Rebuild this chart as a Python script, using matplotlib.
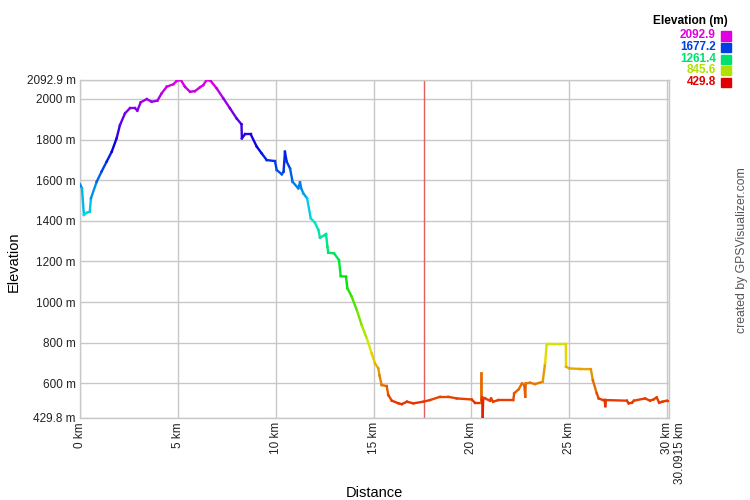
import numpy as np
import matplotlib
matplotlib.use("Agg")
import matplotlib.pyplot as plt
from matplotlib.collections import LineCollection
from matplotlib.colors import hsv_to_rgb
import matplotlib.transforms as mtransforms

plt.rcParams['font.family'] = ['Liberation Sans', 'DejaVu Sans']

dist_km = [0, 0.1, 0.2, 0.35, 0.5, 0.56, 0.85, 1.1, 1.36, 1.62, 1.87, 2.04, 2.3, 2.55, 2.81, 2.93,
           3.1, 3.41, 3.66, 3.95, 4.17, 4.43, 4.77, 4.94, 5.15, 5.36, 5.62, 5.87, 6.13, 6.3, 6.47,
           6.68, 6.98, 7.32, 7.66, 8.0, 8.25, 8.27, 8.43, 8.72, 9.03, 9.28, 9.54, 9.96, 10.05,
           10.31, 10.4, 10.47, 10.56, 10.73, 10.86, 11.15, 11.24, 11.3, 11.41, 11.6, 11.79, 12.0,
           12.18, 12.26, 12.5, 12.57, 12.64, 12.68, 12.98, 13.23, 13.32, 13.59, 13.66, 13.88,
           14.14, 14.39, 14.65, 14.9, 15.07, 15.24, 15.3, 15.41, 15.67, 15.75, 15.93, 16.27,
           16.44, 16.7, 17.03, 17.54, 17.88, 18.39, 18.82, 19.25, 20.01, 20.18, 20.5, 20.51,
           20.52, 20.55, 20.57, 20.6, 20.69, 20.95, 21.0, 21.1, 21.38, 22.14, 22.18, 22.41,
           22.58, 22.7, 22.75, 22.77, 22.99, 23.25, 23.64, 23.76, 23.84, 23.92, 24.82, 24.83,
           25.0, 25.54, 26.1, 26.2, 26.4, 26.5, 26.72, 26.8, 26.84, 26.87, 27.94, 28.03, 28.2,
           28.3, 28.87, 29.12, 29.3, 29.46, 29.59, 29.75, 29.97, 30.0915]
elev_m = [1580, 1560, 1429, 1440, 1445, 1511, 1592, 1642, 1691, 1740, 1806, 1871, 1929, 1954, 1954,
          1942, 1983, 1999, 1986, 1991, 2027, 2060, 2072, 2088, 2093, 2060, 2035, 2038, 2057,
          2068, 2093, 2088, 2052, 2003, 1954, 1904, 1875, 1806, 1826, 1826, 1765, 1732, 1699,
          1694, 1650, 1629, 1642, 1740, 1691, 1658, 1592, 1560, 1589, 1560, 1535, 1511, 1412,
          1391, 1355, 1317, 1330, 1335, 1273, 1243, 1240, 1207, 1128, 1125, 1068, 1027, 961,
          887, 822, 748, 699, 674, 640, 592, 587, 543, 515, 502, 498, 510, 502, 510, 518, 534,
          534, 526, 521, 505, 505, 649, 520, 530, 432, 526, 526, 515, 526, 510, 518, 518, 551,
          571, 600, 590, 534, 600, 603, 597, 608, 699, 789, 794, 794, 682, 674, 671, 670, 616,
          551, 526, 518, 518, 488, 518, 515, 502, 505, 515, 526, 515, 521, 531, 505, 510, 515,
          515]

y_min, y_max = 429.8, 2092.9
x_max = 30.0915
y_ticks = [429.8, 600, 800, 1000, 1200, 1400, 1600, 1800, 2000, 2092.9]
y_tick_labels = ["429.8 m", "600 m", "800 m", "1000 m", "1200 m", "1400 m", "1600 m",
                 "1800 m", "2000 m", "2092.9 m"]
x_ticks = [0, 5, 10, 15, 20, 25, 30, 30.0915]
x_tick_labels = ["0 km", "5 km", "10 km", "15 km", "20 km", "25 km", "30 km", "30.0915 km"]
legend_values = ["2092.9", "1677.2", "1261.4", "845.6", "429.8"]
legend_colors = ["#e000e0", "#0040e0", "#00e070", "#b0e000", "#e00000"]
marker_km = 17.57

fig = plt.figure(figsize=(7.5, 5), dpi=100)
ax = fig.add_axes([80/750, 82/500, 589/750, 338/500])

x = np.array(dist_km)
y = np.array(elev_m)
pts = np.column_stack([x, y]).reshape(-1, 1, 2)
segs = np.concatenate([pts[:-1], pts[1:]], axis=1)
mid = (y[:-1] + y[1:]) / 2
frac = np.clip((mid - y_min) / (y_max - y_min), 0, 1)
hsv = np.column_stack([frac * 300 / 360, np.ones_like(frac), np.full_like(frac, 0.9)])
cols = hsv_to_rgb(hsv)
lc = LineCollection(segs, colors=cols, linewidths=1.7, capstyle='projecting', zorder=3)
ax.add_collection(lc)

ax.axvline(marker_km, color='#e06060', lw=1.0, zorder=2)

ax.set_xlim(0, x_max)
ax.set_ylim(y_min, y_max)
ax.set_yticks(y_ticks)
ax.set_yticklabels(y_tick_labels, fontsize=8.5, color='#222222')
ax.set_xticks(x_ticks)
ax.set_xticklabels(x_tick_labels, fontsize=8.5, rotation=90, color='#222222')
ax.tick_params(length=0, pad=3)
ax.grid(True, color='#c8c8c8', lw=1.0, zorder=0)
for s in ax.spines.values():
    s.set_color('#c8c8c8')
    s.set_linewidth(1.0)

lbl = ax.get_xticklabels()[-1]
lbl.set_transform(lbl.get_transform() + mtransforms.ScaledTranslation(11/100, 0, fig.dpi_scale_trans))

fig.text(374/750, 1 - 493/500, "Distance", ha='center', va='center', fontsize=10.5)
fig.text(14/750, 1 - 262/500, "Elevation", ha='center', va='center', rotation=90, fontsize=10.5)

fig.text(728/750, 1 - 21/500, "Elevation (m)", ha='right', va='center', fontsize=8.6, fontweight='bold')
for i, (v, c) in enumerate(zip(legend_values, legend_colors)):
    yy = 35.5 + i * 11.6
    fig.text(716/750, 1 - yy/500, v, ha='right', va='center', fontsize=8.5, fontweight='bold', color=c)
    fig.patches.append(plt.Rectangle((721/750, 1 - (yy + 5)/500), 10/750, 9/500,
                                     transform=fig.transFigure, color=c, figure=fig))

fig.text(742/750, 1 - 250/500, "created by GPSVisualizer.com", ha='center', va='center',
         rotation=90, fontsize=8.8, color='#555555')

fig.savefig("out.png", dpi=100)
